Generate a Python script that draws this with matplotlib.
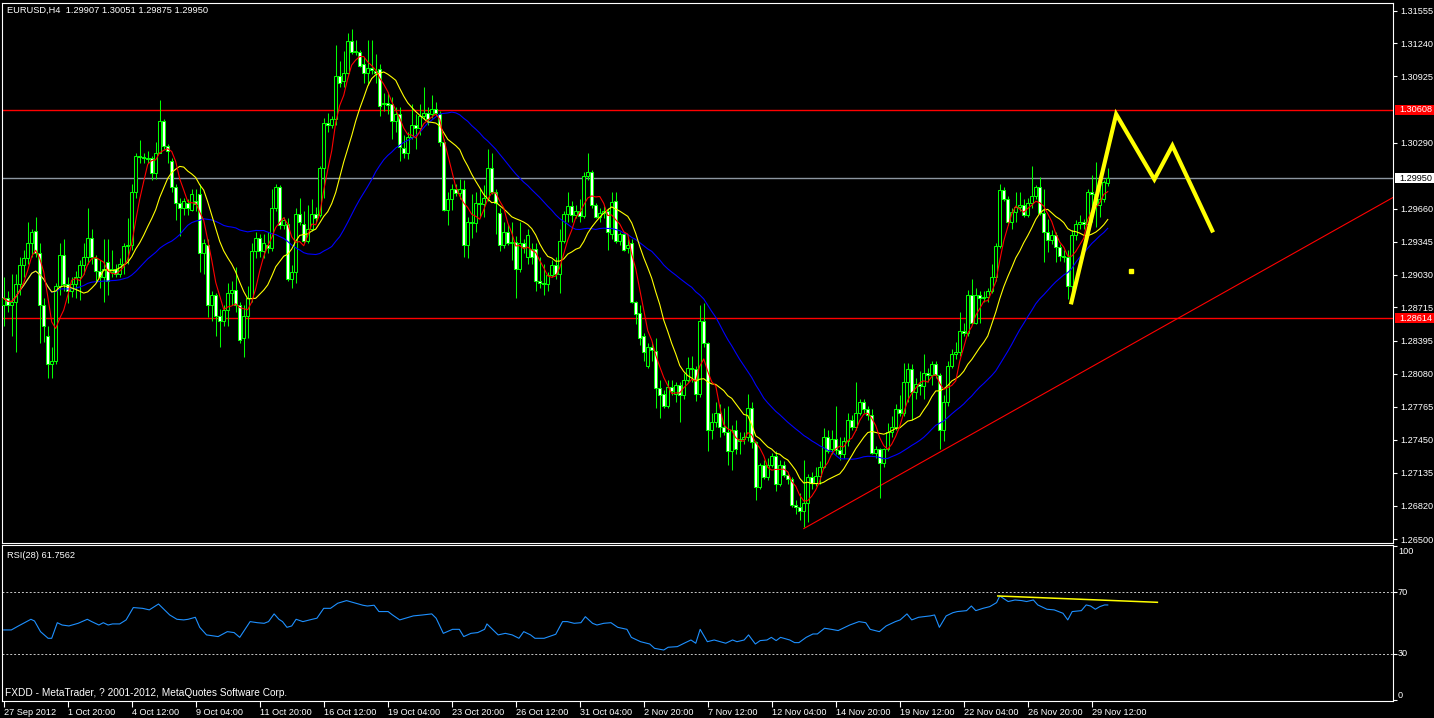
import numpy as np
import pandas as pd
import matplotlib
matplotlib.use('Agg')
import matplotlib.pyplot as plt
from matplotlib.patches import Rectangle
from matplotlib.transforms import blended_transform_factory

plt.rcParams['font.family'] = ['Liberation Sans', 'DejaVu Sans']

# EURUSD H4 candles, prices in points (1e-5)
opens = [
    128736, 128803, 128743, 128770, 128942, 129118, 129185, 129334, 129450, 129234,
    128736, 128438, 128172, 128205, 128919, 129218, 128936, 128869, 128936, 129002,
    129118, 129201, 129384, 129185, 129068, 129002, 129151, 129052, 129085, 129035,
    129135, 129301, 129317, 129815, 130164, 130157, 130147, 130147, 129998, 130197,
    130503, 130264, 130114, 129865, 129716, 129666, 129716, 129649, 129732, 129799,
    129234, 129317, 128736, 128836, 128637, 128587, 128686, 128853, 128886, 128736,
    128421, 128637, 128803, 129251, 129384, 129251, 129317, 129284, 129666, 129865,
    129500, 129516, 128985, 129052, 129606, 129516, 129350, 129467, 129606, 129600,
    130048, 130479, 130456, 130513, 130928, 130878, 130961, 131260, 131160, 131160,
    131043, 130961, 131001, 130977, 130994, 130662, 130669, 130662, 130496, 130563,
    130237, 130197, 130347, 130456, 130430, 130546, 130579, 130563, 130612, 130563,
    130297, 129649, 129749, 129849, 129806, 129849, 129317, 129533, 129523, 129716,
    129706, 129766, 130048, 129815, 129616, 129317, 129440, 129334, 129341, 129085,
    129334, 129201, 129274, 129274, 128969, 128952, 128942, 129028, 129125, 129035,
    129350, 129609, 129682, 129600, 129633, 129593, 129971, 130014, 129699, 129583,
    129616, 129639, 129417, 129732, 129350, 129417, 129284, 129334, 128770, 128663,
    128438, 128155, 128338, 128298, 127940, 127890, 127774, 127956, 127890, 127973,
    127873, 128022, 128139, 128122, 127890, 128587, 128371, 127541, 127624, 127707,
    127575, 127525, 127342, 127541, 127442, 127458, 127475, 127757, 127425, 126993,
    127209, 127093, 127209, 127292, 127027, 127209, 127110, 127070, 126827, 126804,
    126771, 126844, 127093, 127037, 127103, 127193, 127475, 127359, 127458, 127349,
    127316, 127442, 127641, 127575, 127707, 127807, 127740, 127691, 127326, 127359,
    127226, 127359, 127525, 127568, 127740, 127701, 128006, 128122, 127907, 127979,
    127966, 128089, 128066, 128172, 128072, 127541, 127807, 128155, 128272, 128288,
    128487, 128471, 128836, 128570, 128836, 128810, 128816, 128869, 129002, 129301,
    129839, 129749, 129533, 129626, 129676, 129692, 129600, 129716, 129782, 129865,
    129620, 129435, 129356, 129404, 129292, 129212, 129196, 128925, 129404, 129516,
    129532, 129516, 129819, 129803, 129691, 129755, 129907,
]
highs = [
    129002, 128869, 129035, 129035, 129201, 129268, 129533, 129467, 129583, 129334,
    128803, 128537, 128338, 128952, 129334, 129367, 129002, 129002, 129068, 129168,
    129334, 129666, 129467, 129218, 129168, 129367, 129367, 129268, 129135, 129185,
    129334, 129566, 129898, 130197, 130313, 130197, 130214, 130164, 130297, 130695,
    130513, 130280, 130147, 129898, 129766, 129766, 129749, 129849, 129849, 129898,
    129367, 129367, 128869, 128853, 128703, 128736, 128952, 128969, 129102, 128770,
    128736, 128919, 129334, 129434, 129417, 129417, 129434, 129849, 129898, 129882,
    129583, 129566, 129118, 129666, 129766, 129633, 129699, 129749, 129672, 130064,
    130529, 130579, 130546, 131226, 131077, 131167, 131343, 131376, 131276, 131177,
    131110, 131276, 131276, 131143, 131043, 130762, 130778, 130729, 130629, 130629,
    130363, 130396, 130662, 130563, 130662, 130828, 130629, 130745, 130679, 130596,
    130330, 129815, 129898, 129898, 129948, 129932, 129583, 129799, 129815, 129849,
    129882, 130230, 130197, 129849, 129666, 129533, 129516, 129533, 129400, 129533,
    129367, 129467, 129334, 129334, 129201, 129135, 129052, 129168, 129201, 129467,
    129633, 129815, 129732, 129699, 129749, 130014, 130197, 130031, 129716, 129666,
    129682, 129666, 129815, 129815, 129434, 129434, 129367, 129367, 128776, 128736,
    128471, 128371, 128388, 128421, 128022, 127923, 128022, 128022, 128006, 128006,
    128089, 128238, 128255, 128155, 128736, 128753, 128388, 127707, 127807, 127790,
    127757, 127774, 127591, 127641, 127525, 127525, 127890, 127807, 127442, 127226,
    127259, 127276, 127326, 127342, 127259, 127242, 127143, 127093, 126877, 126944,
    127259, 127126, 127143, 127193, 127242, 127558, 127541, 127541, 127774, 127475,
    127475, 127707, 127691, 128006, 127840, 127840, 127774, 127740, 127392, 127375,
    127375, 127608, 127674, 127790, 127873, 128188, 128188, 128172, 128039, 128105,
    128272, 128139, 128205, 128205, 128089, 127873, 128205, 128321, 128388, 128670,
    128570, 128886, 128985, 128902, 128869, 128869, 128902, 129135, 129334, 129898,
    129865, 129782, 129666, 129815, 129815, 129749, 129766, 130064, 129882, 129965,
    129851, 129564, 129452, 129435, 129324, 129260, 129260, 129452, 129547, 129595,
    129564, 129851, 129979, 130106, 129979, 129931, 130051,
]
lows = [
    128537, 128670, 128438, 128288, 128836, 129002, 129135, 129201, 129201, 128371,
    128388, 128039, 128039, 128172, 128836, 128869, 128753, 128819, 128803, 128786,
    129035, 129135, 129135, 128969, 128902, 128770, 128836, 129002, 129002, 129002,
    129035, 129135, 129268, 129766, 130098, 130098, 130098, 129932, 129948, 130197,
    130230, 130098, 129815, 129550, 129400, 129600, 129600, 129633, 129633, 129052,
    129035, 128620, 128587, 128438, 128338, 128537, 128537, 128736, 128670, 128371,
    128238, 128421, 128770, 129185, 129201, 129185, 129234, 129251, 129633, 129467,
    129467, 128969, 128902, 128952, 129500, 129334, 129334, 129450, 129533, 129583,
    129766, 130396, 130430, 130463, 130828, 130828, 130944, 131143, 131127, 131011,
    130861, 130845, 130944, 130861, 130546, 130596, 130563, 130330, 130396, 130114,
    130147, 130131, 130330, 130230, 130363, 130513, 130463, 130529, 130546, 130264,
    129633, 129500, 129649, 129782, 129749, 129201, 129185, 129384, 129434, 129583,
    129583, 129732, 129799, 129417, 129251, 129284, 129317, 129168, 128803, 129052,
    129234, 129135, 129135, 128869, 128902, 128836, 128869, 129002, 128985, 128853,
    129334, 129533, 129533, 129566, 129533, 129566, 129932, 129666, 129566, 129533,
    129566, 129268, 129367, 129334, 129317, 129251, 129234, 128753, 128554, 128355,
    128205, 128139, 128205, 127757, 127657, 127757, 127757, 127873, 127807, 127624,
    127840, 128006, 128006, 127823, 127857, 128338, 127342, 127458, 127575, 127475,
    127491, 127209, 127159, 127309, 127309, 127408, 127442, 127375, 126877, 126977,
    127076, 127060, 127193, 126960, 127010, 127093, 127027, 126811, 126744, 126678,
    126612, 126661, 126977, 127010, 127027, 127176, 127326, 127309, 127309, 127259,
    127276, 127392, 127541, 127541, 127691, 127707, 127641, 127309, 127276, 126894,
    127193, 127342, 127475, 127541, 127674, 127674, 127807, 127641, 127840, 127873,
    127840, 128006, 127973, 128039, 127359, 127442, 127774, 128139, 128222, 128255,
    128438, 128438, 128554, 128554, 128570, 128770, 128770, 128853, 128969, 129284,
    129732, 129500, 129467, 129533, 129633, 129583, 129583, 129666, 129749, 129600,
    129148, 129244, 129324, 129148, 129164, 129148, 128797, 128813, 129356, 129468,
    129468, 129483, 129531, 129483, 129579, 129723, 129875,
]
closes = [
    128803, 128743, 128770, 128942, 129118, 129185, 129334, 129440, 129234, 128736,
    128537, 128172, 128205, 128919, 129218, 128936, 128869, 128936, 129002, 129118,
    129201, 129384, 129201, 129068, 129002, 129085, 128969, 129085, 129035, 129135,
    129301, 129317, 129815, 130164, 130157, 130147, 130137, 129998, 130197, 130496,
    130264, 130214, 129865, 129716, 129666, 129732, 129666, 129799, 129706, 129234,
    129334, 128736, 128836, 128637, 128587, 128686, 128853, 128886, 128736, 128404,
    128637, 128803, 129251, 129384, 129251, 129334, 129284, 129666, 129865, 129500,
    129550, 128985, 129052, 129606, 129533, 129350, 129467, 129606, 129573, 130048,
    130479, 130456, 130513, 130928, 130861, 130961, 131260, 131160, 131167, 131027,
    130961, 131001, 130984, 130954, 130645, 130669, 130652, 130496, 130563, 130247,
    130197, 130347, 130463, 130430, 130546, 130579, 130513, 130612, 130579, 130297,
    129649, 129749, 129849, 129806, 129849, 129317, 129533, 129523, 129716, 129706,
    129766, 130048, 129815, 129716, 129317, 129440, 129334, 129341, 129085, 129334,
    129294, 129407, 129201, 128969, 128952, 128942, 129028, 129125, 129035, 129350,
    129609, 129682, 129600, 129633, 129593, 129971, 130014, 129699, 129583, 129616,
    129639, 129434, 129726, 129350, 129417, 129268, 129317, 128770, 128653, 128421,
    128288, 128338, 128305, 127940, 127873, 127774, 127956, 127913, 127973, 127873,
    128022, 128139, 128129, 127890, 128587, 128371, 127541, 127624, 127707, 127575,
    127525, 127342, 127541, 127359, 127458, 127475, 127757, 127425, 126993, 127209,
    127093, 127209, 127292, 127027, 127209, 127110, 127076, 126827, 126804, 126771,
    126844, 127093, 127037, 127103, 127193, 127475, 127342, 127458, 127349, 127316,
    127442, 127641, 127575, 127707, 127807, 127740, 127691, 127326, 127359, 127226,
    127359, 127525, 127568, 127740, 127701, 128006, 128122, 127907, 127979, 127966,
    128089, 128066, 128172, 128072, 127541, 127807, 128155, 128272, 128288, 128487,
    128471, 128836, 128570, 128836, 128810, 128816, 128869, 129002, 129301, 129839,
    129749, 129533, 129626, 129676, 129692, 129600, 129716, 129782, 129865, 129620,
    129435, 129356, 129404, 129292, 129212, 129196, 128925, 129404, 129516, 129532,
    129516, 129819, 129803, 129691, 129755, 129914, 129950,
]

# RSI(28) line (bar index, value)
rsi_bar = [0, 1.9, 3.7, 6.8, 7.7, 9.2, 11.1, 12, 13.4, 14.6, 16.3, 18.6, 20.9, 22, 23.8,
           24.9, 26.1, 27.2, 29, 30.6, 32.4, 34.7, 36.4, 38.7, 41.5, 43.3, 45, 46.1, 47.9,
           49, 50.7, 53.6, 55.9, 57.6, 59, 61.6, 63.4, 65.1, 66.2, 67.6, 68.8, 69.7, 70.8,
           72, 73.1, 74.8, 77.1, 78.3, 80, 81.7, 83.5, 85.7, 87.5, 89.8, 90.9, 92.6, 93.8,
           96.1, 97.2, 99, 101.2, 102.4, 104.7, 107, 108.1, 109.9, 112.2, 113.9, 115, 116.8,
           118.5, 120.2, 120.8, 123.6, 125.4, 127.1, 128.8, 130, 131.7, 132.8, 135.1, 138,
           139.7, 140.9, 142.6, 144.3, 145.4, 147.2, 148.3, 150, 151.8, 153.5, 155.8, 156.9,
           159.2, 161.5, 162.7, 165, 166.1, 168.4, 170.1, 171.8, 173, 174.1, 175.9, 177.6,
           180.5, 182.2, 183.3, 185.1, 186.2, 187.9, 189.1, 190.8, 191.9, 193.1, 194.2,
           196.5, 197.7, 198.8, 200.6, 202.3, 203.4, 205.2, 206.9, 208.6, 210.3, 211.5,
           213.8, 215.5, 216.6, 218.9, 220.6, 222.9, 224.1, 225.8, 227, 228.7, 231.6, 232.7,
           233.9, 235.6, 237.3, 238.4, 240.7, 241.9, 243, 244.8, 246.5, 248.2, 249, 251.1,
           252.8, 254.5, 255.7, 257.4, 258.5, 260.8, 262.6, 264.8, 266, 267.1, 269.4, 270.6,
           271.7, 272.9, 274, 275.2, 276]
rsi_val = [45.6, 45.6, 48.2, 52.5, 51.4, 44.5, 40.2, 40.2, 50.3, 48.8, 48.2, 49.9, 52.5, 51.0,
           48.8, 50.3, 48.8, 49.5, 49.5, 52.1, 60.1, 59.6, 58.6, 62.4, 55.3, 52.5, 52.1, 52.5,
           53.8, 47.3, 42.4, 41.3, 44.5, 43.9, 40.8, 51.0, 50.3, 49.9, 51.0, 56.0, 52.5, 51.0,
           47.3, 48.2, 52.5, 51.0, 52.5, 53.2, 59.6, 59.6, 62.9, 64.6, 63.3, 61.6, 61.1, 61.6,
           57.5, 57.5, 55.3, 52.1, 53.8, 54.7, 55.3, 56.0, 53.2, 43.4, 46.0, 46.0, 41.3, 43.4,
           43.9, 46.0, 49.5, 42.4, 43.4, 42.4, 40.2, 44.5, 42.4, 40.2, 40.2, 42.8, 51.0, 51.0,
           49.9, 50.3, 54.2, 49.9, 48.8, 49.9, 50.3, 47.3, 46.0, 40.8, 38.0, 36.5, 33.7, 32.6,
           34.4, 34.8, 37.0, 39.1, 37.0, 46.0, 38.0, 39.1, 37.0, 39.1, 38.0, 39.1, 42.4, 36.5,
           38.7, 39.1, 40.8, 38.7, 40.8, 39.1, 37.4, 37.4, 40.8, 43.0, 43.0, 46.7, 46.0, 45.2,
           47.3, 48.8, 51.0, 50.3, 46.0, 44.5, 48.2, 51.0, 52.1, 56.0, 52.1, 53.8, 54.7, 55.3,
           47.3, 54.7, 56.8, 57.5, 58.1, 61.1, 58.1, 59.6, 60.7, 63.3, 67.6, 64.0, 65.0, 64.6,
           64.0, 65.0, 61.8, 59.0, 58.6, 56.4, 52.1, 57.5, 58.1, 61.8, 61.1, 59.0, 60.7, 61.8,
           61.76]

time_labels = ['27 Sep 2012', '1 Oct 20:00', '4 Oct 12:00', '9 Oct 04:00', '11 Oct 20:00',
               '16 Oct 12:00', '19 Oct 04:00', '23 Oct 20:00', '26 Oct 12:00', '31 Oct 04:00',
               '2 Nov 20:00', '7 Nov 12:00', '12 Nov 04:00', '14 Nov 20:00', '19 Nov 12:00',
               '22 Nov 04:00', '26 Nov 20:00', '29 Nov 12:00']
price_ticks = [1.31555, 1.31240, 1.30925, 1.30290, 1.29660, 1.29345, 1.29030, 1.28715,
               1.28395, 1.28080, 1.27765, 1.27450, 1.27135, 1.26820, 1.26500]
rsi_ticks = [100, 70, 30, 0]

# chart objects drawn on the chart
levels = [1.30608, 1.28614]
bid = 1.29950
trend_bar = [200, 347.3]
trend_price = [1.26600, 1.29767]
zz_bar = [266.9, 278.1, 287.65, 292.15, 302.1]
zz_price = [1.28764, 1.30563, 1.29940, 1.30263, 1.29451]
dot_bar, dot_price = 281.9, 1.29068
rsi_trend_bar = [248.5, 288.4]
rsi_trend_val = [67.6, 63.5]

o = np.array(opens) / 1e5
h = np.array(highs) / 1e5
l = np.array(lows) / 1e5
c = np.array(closes) / 1e5
idx = np.arange(len(c))

W, H = 1434, 718
fig = plt.figure(figsize=(W / 100, H / 100), dpi=100, facecolor='black')
ax = fig.add_axes([2 / W, 1 - 542.7 / H, 1391 / W, 540 / H], facecolor='black')
ax2 = fig.add_axes([2 / W, 1 - 701.3 / H, 1391 / W, 156.6 / H], facecolor='black')

green = '#00FF00'
ax.vlines(idx, l, h, color=green, lw=0.75, zorder=2)
bull = c >= o
ax.bar(idx[bull], (c - o)[bull], bottom=o[bull], width=0.7, facecolor='black',
       edgecolor=green, linewidth=0.75, zorder=3)
ax.bar(idx[~bull], (o - c)[~bull], bottom=c[~bull], width=0.7, facecolor='white',
       edgecolor=green, linewidth=0.75, zorder=3)

cs = pd.Series(c)
ax.plot(idx, cs.rolling(34, min_periods=1).mean(), color='#0000FF', lw=0.8, zorder=4)
ax.plot(idx, cs.rolling(13, min_periods=1).mean(), color='#FFFF00', lw=0.8, zorder=4)
ax.plot(idx, cs.rolling(5, min_periods=1).mean(), color='#FF0000', lw=0.8, zorder=4)

for lv in levels:
    ax.axhline(lv, color='#FF0000', lw=1.0, zorder=1)
ax.axhline(bid, color='#8C96A0', lw=1.0, zorder=1)
ax.plot(trend_bar, trend_price, color='#FF0000', lw=0.8, zorder=1)
ax.plot(zz_bar, zz_price, color='#FFFF00', lw=3.0, zorder=5, solid_joinstyle='miter')
ax.plot([dot_bar], [dot_price], 's', color='#FFFF00', ms=2.5, zorder=5)

ax.set_xlim(-0.425, 347.3)
ax.set_ylim(1.26465, 1.3163)
ax.set_xticks([])
ax.yaxis.tick_right()
ax.set_yticks(price_ticks)
ax.set_yticklabels(['%.5f' % p for p in price_ticks])
ax.tick_params(axis='y', colors='white', length=3, width=0.8, labelsize=6.6, pad=2.5)

# price boxes on the right scale
box_tr = blended_transform_factory(fig.transFigure, ax.transData)
box_h = 10 / 540 * (1.3163 - 1.26465)
for val, fc, tc in [(levels[0], '#FF0000', 'white'), (levels[1], '#FF0000', 'white'),
                    (bid, 'white', 'black')]:
    ax.add_patch(Rectangle((1395 / W, val - box_h / 2), 39 / W, box_h, transform=box_tr,
                           facecolor=fc, edgecolor='none', clip_on=False, zorder=6))
    ax.text(1399 / W, val, '%.5f' % val, transform=box_tr, color=tc, fontsize=6.6,
            va='center', ha='left', zorder=7, clip_on=False)

for a in (ax, ax2):
    for s in a.spines.values():
        s.set_color('white')
        s.set_linewidth(0.8)

# RSI panel
ax2.plot(rsi_bar, rsi_val, color='#1E90FF', lw=0.8)
ax2.plot(rsi_trend_bar, rsi_trend_val, color='#FFFF00', lw=1.1)
for lv in (70, 30):
    ax2.axhline(lv, color='#C8C8C8', lw=0.7, ls=(0, (2, 2)))
ax2.set_xlim(-0.425, 347.3)
ax2.set_ylim(-0.6, 100.8)
ax2.yaxis.tick_right()
ax2.set_yticks(rsi_ticks)
ax2.set_yticklabels([])
ax2.tick_params(axis='y', colors='white', length=3, width=0.8)
# scale labels kept inside the panel like the terminal does
rsi_tr = blended_transform_factory(fig.transFigure, fig.transFigure)
for v, ypx in zip(rsi_ticks, [551.7, 592.3, 654.0, 695.0]):
    fig.text(1398 / W, 1 - ypx / H, str(v), color='white', fontsize=6.6,
             va='center', ha='left')
ax2.set_xticks(np.arange(len(time_labels)) * 16)
ax2.set_xticklabels(time_labels)
ax2.tick_params(axis='x', colors='white', length=4, width=0.8, labelsize=6.6, pad=1)
for lab in ax2.get_xticklabels():
    lab.set_ha('left')

fig.text(7 / W, 1 - 10.5 / H, 'EURUSD,H4  1.29907 1.30051 1.29875 1.29950', color='white',
         fontsize=6.7, va='center', ha='left')
fig.text(7 / W, 1 - 555 / H, 'RSI(28) 61.7562', color='white', fontsize=6.7,
         va='center', ha='left')
fig.text(5 / W, 1 - 693 / H, 'FXDD - MetaTrader, ? 2001-2012, MetaQuotes Software Corp.',
         color='white', fontsize=7.3, va='center', ha='left')

fig.savefig('out.png', dpi=100, facecolor='black')
